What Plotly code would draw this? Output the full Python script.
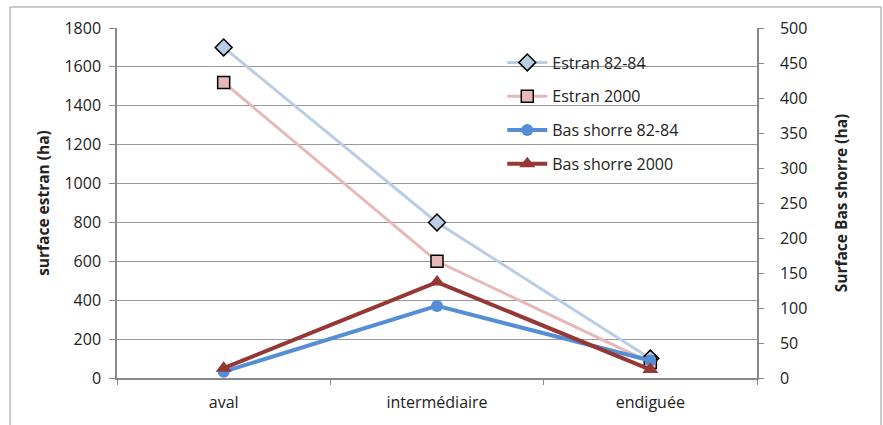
import plotly.graph_objects as go

categories = ["aval", "intermédiaire", "endiguée"]
estran_8284 = [1700, 800, 100]
estran_2000 = [1520, 600, 80]
bas_shorre_8284 = [9, 103, 25]
bas_shorre_2000 = [14, 137, 12]

left_ticks = list(range(0, 1801, 200))
right_ticks = list(range(0, 501, 50))

fig = go.Figure()

fig.add_trace(go.Scatter(
    x=categories, y=estran_8284, name="Estran 82-84", mode="lines+markers",
    line=dict(color="#B9CDE5", width=3),
    marker=dict(symbol="diamond", size=13, color="#B9CDE5", line=dict(color="black", width=1.5)),
    legendgroup="a", yaxis="y"))
fig.add_trace(go.Scatter(
    x=categories, y=estran_2000, name="Estran 2000", mode="lines+markers",
    line=dict(color="#E6B9B8", width=3),
    marker=dict(symbol="square", size=12, color="#E6B9B8", line=dict(color="black", width=1.5)),
    legendgroup="b", yaxis="y"))
fig.add_trace(go.Scatter(
    x=categories, y=bas_shorre_8284, name="Bas shorre 82-84", mode="lines+markers",
    line=dict(color="#558ED5", width=4),
    marker=dict(symbol="circle", size=12, color="#558ED5"),
    legendgroup="c", yaxis="y2"))
fig.add_trace(go.Scatter(
    x=categories, y=bas_shorre_2000, name="Bas shorre 2000", mode="lines+markers",
    line=dict(color="#953735", width=4),
    marker=dict(symbol="triangle-up", size=14, color="#953735"),
    legendgroup="d", yaxis="y2"))

font_family = "Open Sans, sans-serif"
FS = 16

L, R, T, B = 117, 126, 28, 47
W, H = 883, 425
PW, PH = W - L - R, H - T - B

fig.update_layout(
    width=W, height=H,
    margin=dict(l=L, r=R, t=T, b=B),
    paper_bgcolor="white", plot_bgcolor="white",
    font=dict(family=font_family, size=FS, color="#222222"),
    showlegend=True,
    legend=dict(x=0.602, y=0.95, xanchor="left", yanchor="top",
                bgcolor="rgba(0,0,0,0)", font=dict(size=FS, color="#222222"),
                traceorder="grouped", tracegroupgap=10, itemwidth=40),
    xaxis=dict(
        type="category", range=[-0.5, 2.5], showgrid=False, showline=True,
        linecolor="#888888", linewidth=1.5,
        ticks="outside", tickson="boundaries", ticklen=5, tickcolor="#888888",
        tickfont=dict(size=FS), ticklabelstandoff=9, zeroline=False),
    yaxis=dict(
        range=[0, 1800], tickvals=left_ticks, showgrid=True, gridcolor="#999999", gridwidth=1,
        showline=True, linecolor="#888888", linewidth=1.5, ticks="outside", ticklen=6,
        tickcolor="#888888", tickfont=dict(size=FS), ticklabelstandoff=5, zeroline=False,
        title=dict(text="<b>surface estran (ha)</b>", font=dict(size=15.5), standoff=11)),
    yaxis2=dict(
        range=[0, 500], tickvals=right_ticks, overlaying="y", side="right", showgrid=False,
        showline=True, linecolor="#888888", linewidth=1.5, ticks="outside", ticklen=18,
        tickcolor="rgba(0,0,0,0)", tickfont=dict(size=FS), zeroline=False,
        title=dict(text="<b>Surface Bas shorre (ha)</b>", font=dict(size=15.5), standoff=30)),
    yaxis3=dict(
        range=[0, 500], tickvals=right_ticks, overlaying="y", side="right", showgrid=False,
        showline=False, ticks="outside", ticklen=6, tickcolor="#888888", tickwidth=1,
        showticklabels=False, zeroline=False),
    shapes=[dict(type="rect", xref="paper", yref="paper",
                 x0=(10 - L) / PW, x1=(881 - L) / PW,
                 y0=(H - B - 440) / PH, y1=(H - B - 7) / PH,
                 line=dict(color="#999999", width=1), fillcolor="rgba(0,0,0,0)", layer="below")],
)

# invisible anchor trace so the tick-only right axis is drawn
fig.add_trace(go.Scatter(x=[categories[0]], y=[None], yaxis="y3", showlegend=False,
                         hoverinfo="skip", mode="markers"))

fig.write_html("out.html", config={"displayModeBar": False},
               post_script="document.body.style.margin='0px';")
